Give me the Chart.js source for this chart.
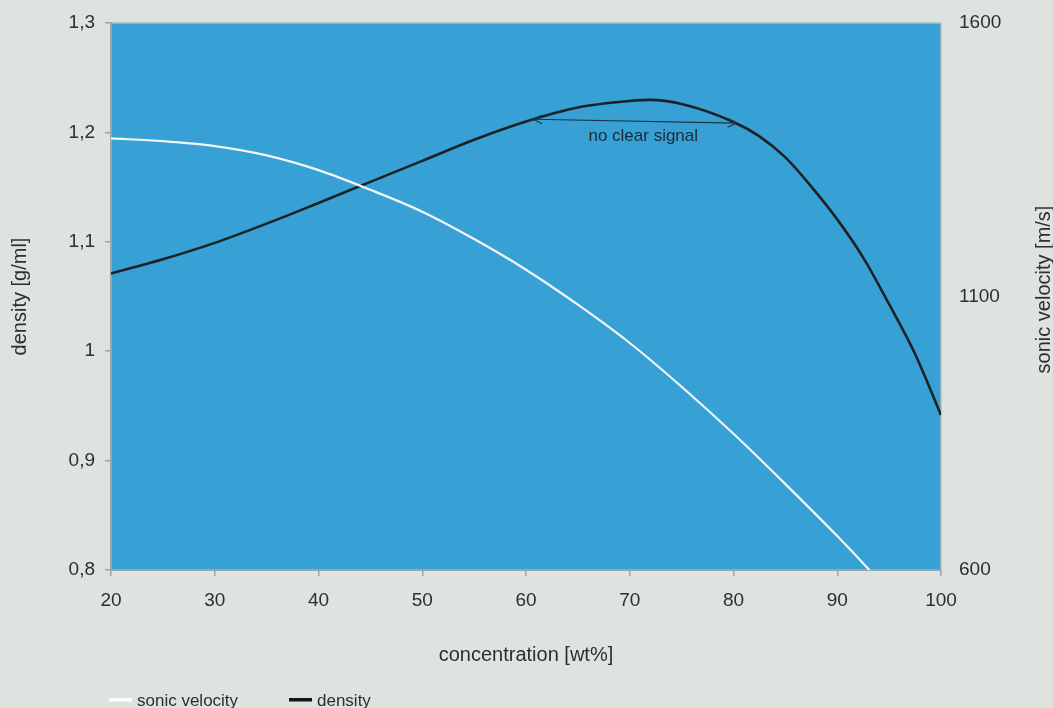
<!DOCTYPE html>
<html>
<head>
<meta charset="utf-8">
<script src="https://cdn.jsdelivr.net/npm/chart.js@4"></script>
<style>
  html,body{margin:0;padding:0;background:#dee3df;}
  #wrap{width:1053px;height:708px;}
</style>
</head>
<body>
<div id="wrap"><canvas id="c" width="1053" height="708"></canvas></div>
<script>
// ---- data ----
const sonicX = [20, 25, 30, 35, 40, 45, 50, 55, 60, 65, 70, 75, 80, 85, 90, 93, 95];
const sonicVelocity = [1389, 1384, 1375, 1358, 1331, 1295, 1255, 1205, 1149, 1085, 1015, 935, 849, 757, 662, 602, 560];
const densityX = [20, 25, 30, 35, 40, 45, 50, 55, 60, 65, 70, 72, 75, 80, 82.5, 85, 87.5, 90, 92.5, 95, 97.5, 100];
const density = [1.071, 1.084, 1.099, 1.1166, 1.1355, 1.1548, 1.174, 1.1933, 1.210, 1.2228, 1.2287, 1.2297, 1.2259, 1.2095, 1.1964, 1.1772, 1.1505, 1.1205, 1.0856, 1.043, 0.9975, 0.9417];
const xTicks = [20, 30, 40, 50, 60, 70, 80, 90, 100];
const densityTicks = [0.8, 0.9, 1.0, 1.1, 1.2, 1.3];
const sonicTicks = [600, 1100, 1600];
const seriesNames = ['sonic velocity', 'density'];
const annotStart = [60.7, 1.212];
const annotEnd = [80.3, 1.2085];
const annotText = 'no clear signal';
const annotTextPos = [71.3, 1.196];

const FONT = "'Liberation Sans', Arial, sans-serif";
const TXT = '#2b2f31';
const AXIS = '#9ea5aa';
const BLUE = '#37a1d5';
const WHITE = '#f3f7f9';
const BLACK = '#1b2224';

const toPts = (xs, ys) => xs.map((x, i) => ({x, y: ys[i]}));

const bgPlugin = {
  id: 'plotBg',
  beforeDraw(chart) {
    const {ctx, chartArea: a} = chart;
    ctx.save();
    ctx.fillStyle = BLUE;
    ctx.fillRect(a.left, a.top, a.right - a.left, a.bottom - a.top);
    ctx.strokeStyle = '#b3babe';
    ctx.lineWidth = 1.5;
    ctx.beginPath();
    ctx.moveTo(a.left, a.top); ctx.lineTo(a.right, a.top); ctx.lineTo(a.right, a.bottom);
    ctx.stroke();
    ctx.restore();
  }
};

const extrasPlugin = {
  id: 'extras',
  afterDatasetsDraw(chart) {
    const {ctx} = chart;
    const xs = chart.scales.x, ys = chart.scales.y;
    const x1 = xs.getPixelForValue(annotStart[0]), y1 = ys.getPixelForValue(annotStart[1]);
    const x2 = xs.getPixelForValue(annotEnd[0]), y2 = ys.getPixelForValue(annotEnd[1]);
    ctx.save();
    ctx.strokeStyle = '#1d3441';
    ctx.lineWidth = 1.1;
    ctx.beginPath(); ctx.moveTo(x1, y1); ctx.lineTo(x2, y2); ctx.stroke();
    const ang = Math.atan2(y2 - y1, x2 - x1);
    const head = (px, py, a) => {
      const L = 10, s = 0.45;
      ctx.beginPath();
      ctx.moveTo(px + L * Math.cos(a + s), py + L * Math.sin(a + s));
      ctx.lineTo(px, py);
      ctx.lineTo(px + L * Math.cos(a - s), py + L * Math.sin(a - s));
      ctx.stroke();
    };
    head(x1, y1, ang);
    head(x2, y2, ang + Math.PI);
    ctx.fillStyle = '#1c2a33';
    ctx.font = "17px " + FONT;
    ctx.textAlign = 'center';
    ctx.textBaseline = 'middle';
    ctx.fillText(annotText, xs.getPixelForValue(annotTextPos[0]), ys.getPixelForValue(annotTextPos[1]));
    ctx.restore();
  },
  afterDraw(chart) {
    const {ctx, chartArea: a} = chart;
    ctx.save();
    ctx.fillStyle = TXT;
    ctx.font = "20px " + FONT;
    ctx.textAlign = 'center';
    ctx.textBaseline = 'middle';
    ctx.translate(1044, (a.top + a.bottom) / 2 - 7);
    ctx.rotate(-Math.PI / 2);
    ctx.fillText('sonic velocity [m/s]', 0, 0);
    ctx.restore();
    ctx.save();
    ctx.font = "17px " + FONT;
    ctx.textBaseline = 'middle';
    ctx.textAlign = 'left';
    const items = [
      {name: seriesNames[0], color: '#ffffff', x: 109},
      {name: seriesNames[1], color: '#111617', x: 289}
    ];
    items.forEach(it => {
      ctx.fillStyle = it.color;
      ctx.fillRect(it.x, 698, 23, 3.5);
      ctx.fillStyle = TXT;
      ctx.fillText(it.name, it.x + 28, 701);
    });
    ctx.restore();
  }
};

new Chart(document.getElementById('c'), {
  type: 'line',
  data: {
    datasets: [
      {
        label: seriesNames[0],
        data: toPts(sonicX, sonicVelocity),
        yAxisID: 'y2',
        borderColor: WHITE,
        borderWidth: 2.2,
        pointRadius: 0,
        cubicInterpolationMode: 'monotone',
        fill: false
      },
      {
        label: seriesNames[1],
        data: toPts(densityX, density),
        yAxisID: 'y',
        borderColor: BLACK,
        borderWidth: 2.6,
        pointRadius: 0,
        cubicInterpolationMode: 'monotone',
        fill: false
      }
    ]
  },
  options: {
    responsive: false,
    animation: false,
    events: [],
    layout: {padding: {top: 23, left: 0, right: 0, bottom: 0}},
    plugins: {legend: {display: false}, tooltip: {enabled: false}},
    scales: {
      x: {
        type: 'linear',
        min: 20, max: 100,
        afterBuildTicks: s => { s.ticks = xTicks.map(v => ({value: v})); },
        afterFit: s => { s.height = 138; },
        ticks: {color: TXT, font: {size: 19, family: FONT}, padding: 13, maxRotation: 0},
        grid: {drawOnChartArea: false, tickLength: 6, color: AXIS, lineWidth: 1.5},
        border: {color: AXIS, width: 2},
        title: {display: true, text: 'concentration [wt%]', color: TXT, font: {size: 20, family: FONT}, padding: {top: 0, bottom: 41}}
      },
      y: {
        position: 'left',
        min: 0.8, max: 1.3,
        afterBuildTicks: s => { s.ticks = densityTicks.map(v => ({value: v})); },
        afterFit: s => { s.width = 111; s.paddingTop = 0; s.paddingBottom = 0; },
        ticks: {color: TXT, font: {size: 19, family: FONT}, padding: 10,
          callback: v => (Math.round(v * 10) / 10).toString().replace('.', ',')},
        grid: {drawOnChartArea: false, tickLength: 6, color: AXIS, lineWidth: 1.5},
        border: {color: AXIS, width: 2},
        title: {display: true, text: 'density [g/ml]', color: TXT, font: {size: 20, family: FONT}, padding: {top: 8, bottom: 0}}
      },
      y2: {
        position: 'right',
        min: 600, max: 1600,
        afterBuildTicks: s => { s.ticks = sonicTicks.map(v => ({value: v})); },
        afterFit: s => { s.width = 112; s.paddingTop = 0; s.paddingBottom = 0; },
        ticks: {color: TXT, font: {size: 19, family: FONT}, padding: 18, callback: v => String(v)},
        grid: {drawOnChartArea: false, drawTicks: false},
        border: {display: false}
      }
    }
  },
  plugins: [bgPlugin, extrasPlugin]
});
</script>
</body>
</html>
